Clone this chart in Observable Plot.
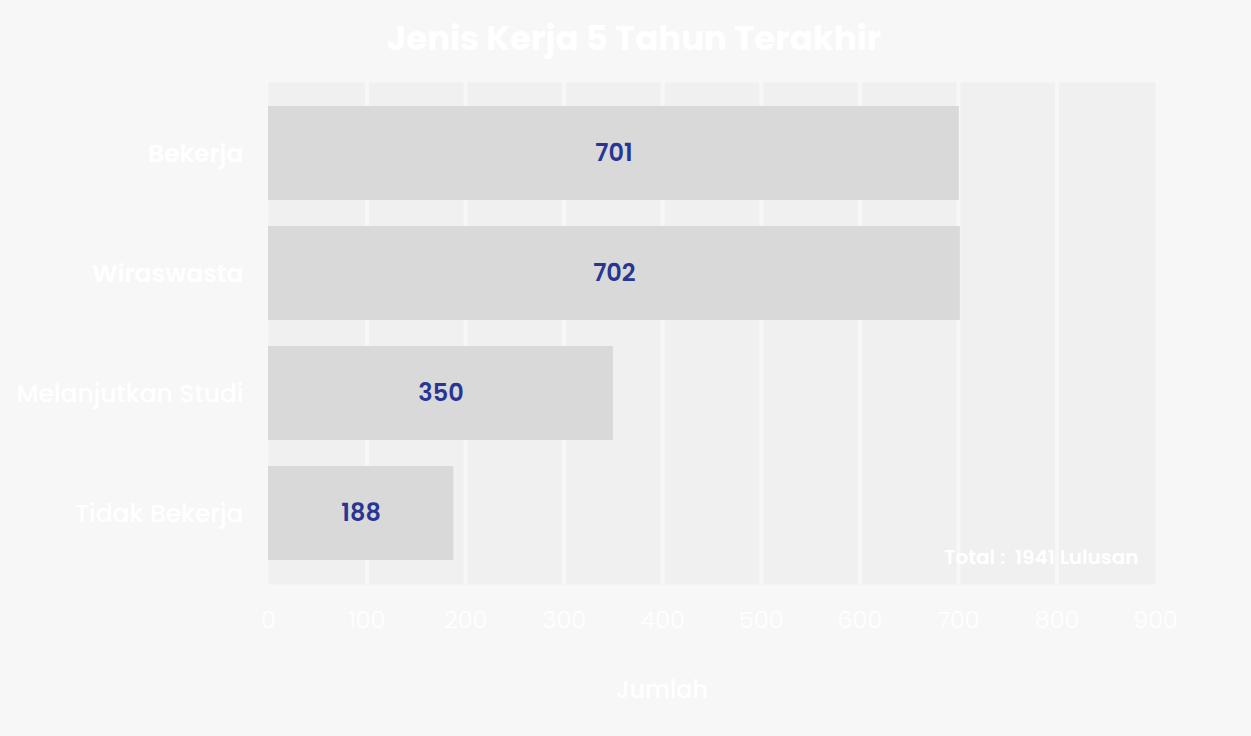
<!DOCTYPE html>
<html>
<head>
<meta charset="utf-8">
<script src="https://cdn.jsdelivr.net/npm/d3@7"></script>
<script src="https://cdn.jsdelivr.net/npm/@observablehq/plot@0.6"></script>
<style>
  html, body { margin: 0; padding: 0; background: #f7f7f7; }
  body { width: 1251px; height: 736px; overflow: hidden; font-family: Poppins, "Open Sans", sans-serif; }
  #title { height: 76px; line-height: 76px; text-align: center; padding-left: 17px; box-sizing: border-box;
           color: #ffffff; font-size: 34px; font-weight: 700; }
  #chart svg { display: block; }
</style>
</head>
<body>
<div id="title">Jenis Kerja 5 Tahun Terakhir</div>
<div id="chart"></div>
<script>
const categories = ["Bekerja", "Wiraswasta", "Melanjutkan Studi", "Tidak Bekerja"];
const values = [701, 702, 350, 188];
const labelWeights = [600, 600, 500, 500];
const xTicks = [0, 100, 200, 300, 400, 500, 600, 700, 800, 900];
const gridValues = [100, 200, 300, 400, 500, 600, 700, 800];
const axisLabel = "Jumlah";
const totalText = "Total :  1941 Lulusan";

const data = categories.map((c, i) => ({category: c, value: values[i], weight: labelWeights[i]}));
const ff = 'Poppins, "Open Sans", sans-serif';

const chart = Plot.plot({
  width: 1251,
  height: 660,
  marginTop: 6,
  marginBottom: 152,
  marginLeft: 268,
  marginRight: 96,
  style: {background: "#f7f7f7", color: "#ffffff", fontFamily: ff, overflow: "visible"},
  x: {domain: [0, 900], ticks: xTicks},
  y: {type: "band", domain: categories, range: [30, 485], paddingInner: 0.215, paddingOuter: 0, axis: null},
  marks: [
    Plot.frame({fill: "#f0f0f0", stroke: null}),
    Plot.ruleX(gridValues, {stroke: "#f7f7f7", strokeWidth: 4}),
    Plot.barX(data, {x: "value", y: "category", fill: "#d9d9d9"}),
    Plot.text(data, {x: d => d.value / 2, y: "category", text: d => String(d.value),
      fill: "#283593", fontSize: 24, fontWeight: 600, fontFamily: ff}),
    Plot.text(data.filter(d => d.weight === 600), {x: 0, y: "category", text: "category", dx: -25,
      textAnchor: "end", fill: "#ffffff", fontSize: 25, fontWeight: 600, fontFamily: ff}),
    Plot.text(data.filter(d => d.weight === 500), {x: 0, y: "category", text: "category", dx: -25,
      textAnchor: "end", fill: "#ffffff", fontSize: 25, fontWeight: 500, fontFamily: ff}),
    Plot.axisX({ticks: xTicks, tickSize: 0, tickPadding: 26, fontSize: 24, fontWeight: 300,
      fill: "#ffffff", label: null, fontFamily: ff}),
    Plot.text([totalText], {frameAnchor: "bottom-right", textAnchor: "end", lineAnchor: "middle",
      dx: -17, dy: -27, fill: "#ffffff", fontSize: 20, fontWeight: 600, fontFamily: ff}),
    Plot.text([axisLabel], {frameAnchor: "bottom", textAnchor: "middle", lineAnchor: "middle",
      dx: -50, dy: 106, fill: "#ffffff", fontSize: 24, fontWeight: 500, fontFamily: ff})
  ]
});
document.getElementById("chart").appendChild(chart);
</script>
</body>
</html>
